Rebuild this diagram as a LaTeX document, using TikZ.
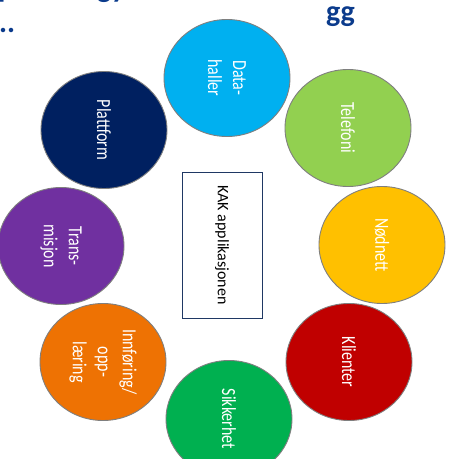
\documentclass[tikz,border=0pt]{standalone}
\usepackage{fontspec}
\setmainfont{Carlito}
\newfontfamily\circfont[FakeStretch=0.8]{Carlito}
\usetikzlibrary{shapes.geometric}
\definecolor{bubgray}{HTML}{7F7F7F}
\definecolor{navyline}{HTML}{1F3864}
\definecolor{titleblue}{HTML}{0B3B8C}
\definecolor{cData}{HTML}{00B0F0}
\definecolor{cTele}{HTML}{92D050}
\definecolor{cNod}{HTML}{FFC000}
\definecolor{cKli}{HTML}{C00000}
\definecolor{cSik}{HTML}{00B050}
\definecolor{cInn}{HTML}{EE7203}
\definecolor{cTra}{HTML}{7030A0}
\definecolor{cPla}{HTML}{002060}
\tikzset{
  bub/.style={ellipse, draw=bubgray, line width=0.9pt, minimum width=117pt,
    minimum height=126pt, inner sep=0pt, rotate=-90, text=white,
    font=\circfont\fontsize{20}{25}\selectfont, align=center},
  kakbox/.style={rectangle, draw=navyline, line width=0.9pt, minimum width=146pt,
    minimum height=80pt, inner sep=0pt, rotate=-90, text=black,
    font=\fontsize{16}{19}\selectfont},
  titletxt/.style={anchor=base west, inner sep=0pt, text=titleblue,
    font=\bfseries\fontsize{30}{36}\selectfont}
}
\begin{document}
\begin{tikzpicture}[x=1pt,y=1pt]
\useasboundingbox (0,0) rectangle (451,459);
\clip (0,0) rectangle (451,459);
\fill[white] (0,0) rectangle (451,459);
% title fragments
\node[titletxt] (t1) at (-2,461) {p};
\node[titletxt] (t2) at (97,461) {gy};
\node[titletxt] (t3) at (-1,426) {..};
\node[titletxt] (t4) at (326,437) {gg};
% bubbles
\node[bub, fill=cData] (data) at (227,381) {Data-\\haller};
\node[bub, fill=cTele] (tele) at (348,331) {Telefoni};
\node[bub, fill=cNod] (nod) at (382,214) {Nødnett};
\node[bub, fill=cKli] (kli) at (349,97) {Klienter};
\node[bub, fill=cSik] (sik) at (229,40) {Sikkerhet};
\node[bub, fill=cInn] (inn) at (103,97) {Innføring/\\opp-\\læring};
\node[bub, fill=cTra] (tra) at (61,213) {Trans-\\misjon};
\node[bub, fill=cPla] (pla) at (104,329) {Plattform};
% centre box
\node[kakbox] (kak) at (222,214) {KAK applikasjonen};
\end{tikzpicture}
\end{document}
